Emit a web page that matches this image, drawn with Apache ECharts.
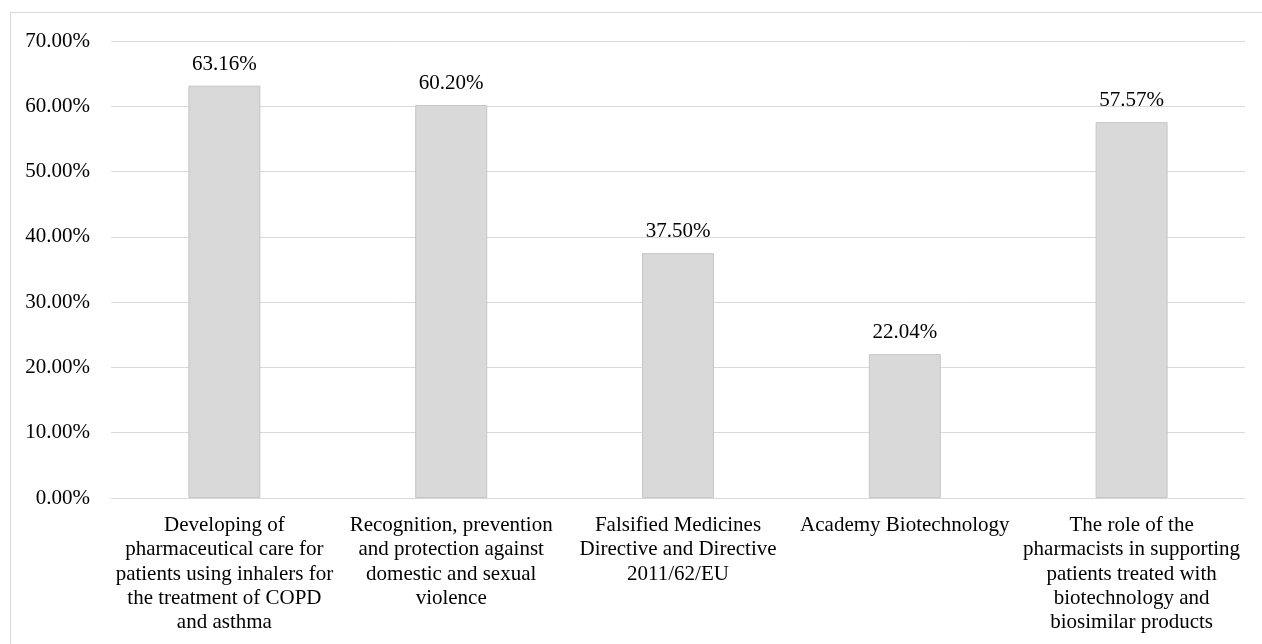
<!DOCTYPE html>
<html><head><meta charset="utf-8">
<script src="https://cdn.jsdelivr.net/npm/echarts@6/dist/echarts.min.js"></script>
<style>
html,body{margin:0;padding:0;background:#fff;overflow:hidden}
#frame{position:absolute;left:10px;top:12px;width:1270px;height:660px;border:1px solid #d9d9d9;box-sizing:border-box}
#c{position:absolute;left:0;top:0;width:1262px;height:644px}
</style></head>
<body>
<div id="frame"></div>
<div id="c"></div>
<script>
const categories = [
  "Developing of\npharmaceutical care for\npatients using inhalers for\nthe treatment of COPD\nand asthma",
  "Recognition, prevention\nand protection against\ndomestic and sexual\nviolence",
  "Falsified Medicines\nDirective and Directive\n2011/62/EU",
  "Academy Biotechnology",
  "The role of the\npharmacists in supporting\npatients treated with\nbiotechnology and\nbiosimilar products"
];
const values = [63.16, 60.20, 37.50, 22.04, 57.57];

const chart = echarts.init(document.getElementById('c'));
const font = '"Liberation Serif", "Times New Roman", serif';
chart.setOption({
  animation: false,
  grid: {left: 111, right: 17, top: 41, bottom: 146},
  xAxis: {
    type: 'category',
    data: categories,
    axisLine: {lineStyle: {color: '#d9d9d9', width: 1}},
    axisTick: {show: false},
    axisLabel: {interval: 0, color: '#000', fontFamily: font, fontSize: 21, lineHeight: 24.4, margin: 15}
  },
  yAxis: {
    type: 'value',
    min: 0, max: 70, interval: 10,
    axisLine: {show: false},
    axisTick: {show: false},
    splitLine: {lineStyle: {color: '#d9d9d9', width: 1}},
    axisLabel: {color: '#000', fontFamily: font, fontSize: 21, margin: 21,
      formatter: v => v.toFixed(2) + '%'}
  },
  series: [{
    type: 'bar',
    data: values,
    barWidth: 72,
    itemStyle: {color: '#d9d9d9', borderColor: '#c6c6c6', borderWidth: 1},
    label: {show: true, position: 'top', distance: 11, color: '#000', fontFamily: font, fontSize: 21,
      formatter: p => p.value.toFixed(2) + '%'}
  }]
});
</script>
</body></html>
